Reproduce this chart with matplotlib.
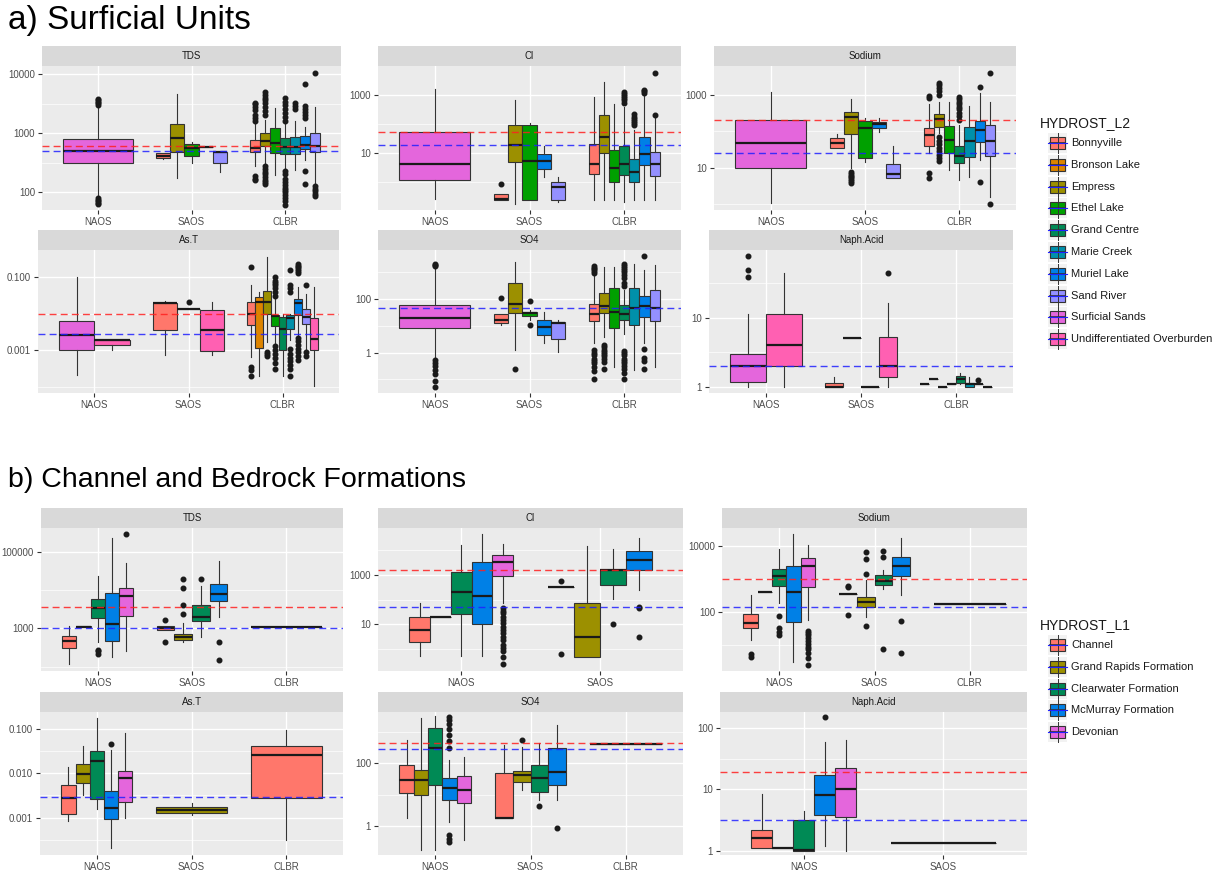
import matplotlib

matplotlib.use("Agg")
import matplotlib.pyplot as plt
from matplotlib.patches import Rectangle
from matplotlib.ticker import NullFormatter

plt.rcParams["font.family"] = ["Liberation Sans", "DejaVu Sans"]

W, H = 1228, 872

# legend categories
L2_UNITS = ["Bonnyville", "Bronson Lake", "Empress", "Ethel Lake", "Grand Centre",
            "Marie Creek", "Muriel Lake", "Sand River", "Surficial Sands",
            "Undifferentiated Overburden"]
L2_COLORS = ["#FF776B", "#DD8400", "#9C9000", "#00A000", "#008A55",
             "#0090AA", "#0080E6", "#9490FF", "#E466DC", "#FF60B2"]
L1_UNITS = ["Channel", "Grand Rapids Formation", "Clearwater Formation",
            "McMurray Formation", "Devonian"]
L1_COLORS = ["#FF776B", "#9C9000", "#008A55", "#0080E6", "#E466DC"]

# box stats: (group, unit, whisker low, q1, median, q3, whisker high, outliers)
A_TDS = [
    ("NAOS", "Surficial Sands", 85, 318, 508, 802, 2800, [62, 66, 70, 75, 80, 3000, 3200, 3400, 3600, 3800]),
    ("SAOS", "Bonnyville", 360, 377, 417, 458, 470, []),
    ("SAOS", "Empress", 172, 489, 822, 1422, 4580, []),
    ("SAOS", "Ethel Lake", 318, 413, 557, 652, 723, []),
    ("SAOS", "Muriel Lake", 594, 594, 594, 594, 594, []),
    ("SAOS", "Sand River", 223, 310, 475, 489, 489, []),
    ("CLBR", "Bonnyville", 279, 489, 571, 771, 1500, [160, 170, 190, 1600, 1800, 2000, 2500, 2800, 3100, 3300]),
    ("CLBR", "Empress", 309, 610, 752, 1000, 1700, [140, 150, 160, 180, 200, 220, 250, 280, 2000, 2400, 2800, 3200, 3600, 4000, 4500, 5000]),
    ("CLBR", "Ethel Lake", 197, 470, 676, 1217, 2650, []),
    ("CLBR", "Grand Centre", 255, 440, 594, 822, 1500, [60, 70, 80, 90, 100, 110, 120, 135, 150, 170, 200, 230, 1600, 1900, 2200, 2600, 3000, 3400, 4000]),
    ("CLBR", "Marie Creek", 240, 447, 594, 879, 1590, [2600, 2900, 3300]),
    ("CLBR", "Muriel Lake", 353, 535, 634, 902, 1297, [140, 230, 1800, 2000, 2300, 2600, 2900, 6800]),
    ("CLBR", "Sand River", 142, 489, 610, 1000, 2830, [85, 95, 105, 115, 130, 10500]),
]
A_CL = [
    ("NAOS", "Surficial Sands", 0.265, 1.22, 4.2, 55, 1560, []),
    ("SAOS", "Bonnyville", 0.25, 0.25, 0.28, 0.39, 0.39, [0.89]),
    ("SAOS", "Empress", 0.19, 4.9, 19.3, 93.6, 676, []),
    ("SAOS", "Ethel Lake", 0.25, 0.25, 5.6, 91, 107, []),
    ("SAOS", "Muriel Lake", 1.58, 2.8, 5.6, 9.2, 17.8, []),
    ("SAOS", "Sand River", 0.22, 0.25, 0.68, 1.07, 1.5, []),
    ("CLBR", "Bonnyville", 0.26, 1.9, 4.2, 21, 832, []),
    ("CLBR", "Empress", 0.26, 10, 37, 206, 2860, []),
    ("CLBR", "Ethel Lake", 0.26, 1.0, 3.2, 13, 490, []),
    ("CLBR", "Grand Centre", 0.22, 1.8, 4.2, 17.8, 400, [520, 650, 800, 950, 1100, 1300]),
    ("CLBR", "Marie Creek", 0.26, 1.0, 2.35, 6.4, 63, [90, 110, 130, 150, 180, 230]),
    ("CLBR", "Muriel Lake", 0.26, 4.0, 9.2, 35, 900, [1150, 1350, 1500]),
    ("CLBR", "Sand River", 0.26, 1.67, 4.2, 10.8, 159, [206, 5830]),
]
A_NA = [
    ("NAOS", "Surficial Sands", 1.04, 9.6, 48.7, 201, 1235, []),
    ("SAOS", "Bonnyville", 35.5, 35.5, 48.7, 64, 83, []),
    ("SAOS", "Empress", 9.6, 83, 243, 348, 760, [3.8, 4.3, 4.8, 5.4, 6.0, 6.8, 7.6]),
    ("SAOS", "Ethel Lake", 14.6, 18, 124, 192, 228, []),
    ("SAOS", "Muriel Lake", 98, 121, 156, 181, 228, []),
    ("SAOS", "Sand River", 5.3, 5.3, 6.7, 12.6, 39.5, []),
    ("CLBR", "Bonnyville", 24.8, 39.5, 77.6, 121, 565, [5.1, 7.0, 850, 950]),
    ("CLBR", "Empress", 88, 129, 214, 300, 656, [15, 18, 22, 28, 35, 45, 55, 70, 1000, 1300, 1600, 1900, 2100]),
    ("CLBR", "Ethel Lake", 8.6, 24.8, 57.7, 140, 656, []),
    ("CLBR", "Grand Centre", 4.6, 13.7, 21, 39.5, 150, [210, 260, 320, 400, 480, 560, 650, 760, 880]),
    ("CLBR", "Marie Creek", 5.6, 20, 55, 129, 508, []),
    ("CLBR", "Muriel Lake", 16, 50, 109, 192, 1110, [3.9, 1690]),
    ("CLBR", "Sand River", 1.6, 21, 55, 149, 656, [1.0, 4120]),
]
A_AS = [
    ("NAOS", "Surficial Sands", 0.000205, 0.00104, 0.0027, 0.0064, 0.1, []),
    ("NAOS", "Undifferentiated Overburden", 0.00104, 0.00135, 0.0019, 0.00197, 0.00197, []),
    ("SAOS", "Bonnyville", 0.00073, 0.0037, 0.0201, 0.0201, 0.0223, []),
    ("SAOS", "Surficial Sands", 0.0137, 0.0137, 0.0137, 0.0137, 0.0137, [0.0215]),
    ("SAOS", "Undifferentiated Overburden", 0.00073, 0.00094, 0.00355, 0.0124, 0.0215, []),
    ("CLBR", "Bonnyville", 0.00066, 0.00488, 0.0098, 0.021, 0.0615, [0.0002, 0.00028, 0.00035, 0.188]),
    ("CLBR", "Bronson Lake", 0.0002, 0.00118, 0.0215, 0.0294, 0.0403, []),
    ("CLBR", "Empress", 0.0017, 0.0098, 0.0215, 0.042, 0.37, [0.0007, 0.0008, 0.0009]),
    ("CLBR", "Ethel Lake", 0.0015, 0.00477, 0.0087, 0.0092, 0.028, [0.0003, 0.00045, 0.0006, 0.0008, 0.001, 0.0013, 0.03, 0.04, 0.05, 0.06, 0.07, 0.08, 0.1]),
    ("CLBR", "Grand Centre", 0.0002, 0.00104, 0.0039, 0.0083, 0.0101, []),
    ("CLBR", "Marie Creek", 0.0019, 0.0039, 0.0078, 0.0092, 0.0101, [0.0002, 0.0003, 0.0004, 0.0005, 0.0006, 0.0008, 0.0011, 0.04, 0.05, 0.06, 0.16]),
    ("CLBR", "Muriel Lake", 0.0026, 0.009, 0.0192, 0.0248, 0.055, [0.00055, 0.0007, 0.0009, 0.0011, 0.0014, 0.0018, 0.0022, 0.13, 0.15, 0.17, 0.19, 0.21, 0.23]),
    ("CLBR", "Sand River", 0.0011, 0.0051, 0.0083, 0.0132, 0.036, [0.0007, 0.0009, 0.06]),
    ("CLBR", "Undifferentiated Overburden", 0.000102, 0.001, 0.002, 0.0079, 0.055, []),
]
A_SO4 = [
    ("NAOS", "Surficial Sands", 0.6, 8.66, 20.5, 59.6, 1630, [0.05, 0.09, 0.155, 0.22, 0.31, 0.41, 0.51, 1700, 1900, 2100]),
    ("SAOS", "Bonnyville", 10.6, 13, 17.3, 29, 29, [115]),
    ("SAOS", "Empress", 1.22, 31.6, 65, 387, 2500, [0.25]),
    ("SAOS", "Ethel Lake", 16.3, 23, 31.6, 33.5, 38.7, [10.6, 86.6]),
    ("SAOS", "Muriel Lake", 2.2, 4.5, 9.2, 17.3, 33.5, []),
    ("SAOS", "Sand River", 1.06, 3.35, 13, 14.1, 16.3, []),
    ("CLBR", "Bonnyville", 2.2, 15, 27.4, 65, 917, [0.1, 0.2, 0.3, 0.4, 0.5, 0.6, 0.8, 1.0, 1.3, 950, 1100, 1300, 1500, 1800]),
    ("CLBR", "Empress", 3.87, 30.7, 54.6, 163, 1630, [0.25, 0.45, 0.6, 0.75, 0.9, 1.1, 1.3, 1.6, 2.0]),
    ("CLBR", "Ethel Lake", 0.29, 8.66, 33.5, 251, 1630, []),
    ("CLBR", "Grand Centre", 5.2, 16.3, 29, 59.6, 217, [0.1, 0.18, 0.25, 0.32, 0.4, 0.5, 0.6, 0.8, 1.0, 1.2, 300, 400, 600, 800, 1000, 1200, 1500, 1800, 2000]),
    ("CLBR", "Marie Creek", 0.22, 10.6, 47, 251, 2000, []),
    ("CLBR", "Muriel Lake", 2.2, 21.8, 54.6, 130, 1220, [0.25, 0.5, 0.63, 1.4, 4100]),
    ("CLBR", "Sand River", 0.29, 15, 48.7, 230, 1870, []),
]
A_NAPH = [
    ("NAOS", "Surficial Sands", 1.0, 1.18, 2.0, 3.04, 11.2, [38.5, 49, 77.4]),
    ("NAOS", "Undifferentiated Overburden", 1.0, 2.0, 4.1, 11.2, 44, []),
    ("SAOS", "Bonnyville", 1.0, 1.0, 1.0, 1.16, 1.4, []),
    ("SAOS", "Empress", 5.1, 5.1, 5.1, 5.1, 5.1, []),
    ("SAOS", "Surficial Sands", 1.0, 1.0, 1.0, 1.0, 1.0, []),
    ("SAOS", "Undifferentiated Overburden", 1.0, 1.4, 2.0, 5.3, 16.5, [44]),
    ("CLBR", "Bonnyville", 1.09, 1.09, 1.09, 1.09, 1.09, []),
    ("CLBR", "Bronson Lake", 1.32, 1.32, 1.32, 1.32, 1.32, []),
    ("CLBR", "Empress", 1.0, 1.0, 1.0, 1.0, 1.0, []),
    ("CLBR", "Ethel Lake", 1.09, 1.09, 1.09, 1.09, 1.09, []),
    ("CLBR", "Grand Centre", 1.1, 1.14, 1.32, 1.44, 1.6, []),
    ("CLBR", "Marie Creek", 1.0, 1.0, 1.1, 1.14, 1.4, []),
    ("CLBR", "Muriel Lake", 1.09, 1.09, 1.09, 1.1, 1.1, [1.28]),
    ("CLBR", "Sand River", 1.0, 1.0, 1.0, 1.0, 1.0, []),
]

B_TDS = [
    ("NAOS", "Channel", 115, 309, 473, 641, 1150, []),
    ("NAOS", "Grand Rapids Formation", 1080, 1080, 1106, 1130, 1130, []),
    ("NAOS", "Clearwater Formation", 446, 1900, 3360, 5800, 24300, [220, 250, 280]),
    ("NAOS", "McMurray Formation", 180, 465, 1275, 8340, 234000, []),
    ("NAOS", "Devonian", 258, 2150, 7250, 11300, 51300, [296000]),
    ("SAOS", "Channel", 903, 903, 1000, 1150, 1150, [446, 1656]),
    ("SAOS", "Grand Rapids Formation", 446, 493, 603, 738, 1350, [2330, 4110, 11300, 19500]),
    ("SAOS", "Clearwater Formation", 603, 1590, 1940, 4110, 13000, [19500]),
    ("SAOS", "McMurray Formation", 1940, 5230, 7850, 14400, 56800, [153, 446]),
    ("CLBR", "Channel", 1106, 1106, 1106, 1106, 1106, []),
    ("CLBR", "McMurray Formation", 1106, 1106, 1106, 1106, 1106, []),
]
B_CL = [
    ("NAOS", "Channel", 0.52, 1.98, 5.9, 19.2, 71, []),
    ("NAOS", "Grand Rapids Formation", 20.5, 20.5, 20.5, 20.5, 20.5, []),
    ("NAOS", "Clearwater Formation", 0.52, 25.4, 211, 1280, 16400, []),
    ("NAOS", "McMurray Formation", 0.52, 10, 141, 3160, 44600, []),
    ("NAOS", "Devonian", 71, 856, 3270, 6470, 18100, [0.24, 0.49, 0.8, 1.06, 1.5, 2.3, 3.2, 4.3, 5.8, 8.1, 11, 15, 20, 28, 36, 45]),
    ("SAOS", "Channel", 316, 316, 316, 316, 316, [0.63, 571]),
    ("SAOS", "Grand Rapids Formation", 0.49, 0.49, 3.16, 75.5, 14100, []),
    ("SAOS", "Clearwater Formation", 103, 393, 1500, 1500, 11300, [10]),
    ("SAOS", "McMurray Formation", 232, 1500, 4050, 8830, 30600, [3.16, 47, 52]),
]
B_NA = [
    ("NAOS", "Channel", 15, 34, 46, 87, 337, [4.3, 5.4]),
    ("NAOS", "Grand Rapids Formation", 406, 406, 406, 406, 406, []),
    ("NAOS", "Clearwater Formation", 197, 649, 1280, 2040, 8300, [20.5, 25.8, 34, 77]),
    ("NAOS", "McMurray Formation", 3.1, 52, 406, 2580, 24300, []),
    ("NAOS", "Devonian", 58, 577, 2580, 4420, 11200, [2.6, 4.2, 5.9, 7.5, 9, 11, 14, 17, 20, 23, 27]),
    ("SAOS", "Channel", 361, 361, 361, 361, 361, [83, 577, 634]),
    ("SAOS", "Grand Rapids Formation", 74, 149, 211, 300, 966, [38, 1470, 4110, 6710]),
    ("SAOS", "Clearwater Formation", 500, 679, 920, 1370, 1950, [8, 4730, 7050]),
    ("SAOS", "McMurray Formation", 337, 1280, 2580, 4730, 17900, [5.9, 56]),
    ("CLBR", "Channel", 180, 180, 180, 180, 180, []),
    ("CLBR", "McMurray Formation", 180, 180, 180, 180, 180, []),
]
B_AS = [
    ("NAOS", "Channel", 0.00084, 0.00121, 0.00282, 0.00546, 0.0141, []),
    ("NAOS", "Grand Rapids Formation", 0.0032, 0.0059, 0.0095, 0.016, 0.04, []),
    ("NAOS", "Clearwater Formation", 0.00157, 0.0026, 0.019, 0.0308, 0.174, []),
    ("NAOS", "McMurray Formation", 0.000203, 0.00093, 0.00168, 0.004, 0.0336, [0.045]),
    ("NAOS", "Devonian", 0.001, 0.0022, 0.0077, 0.0113, 0.08, []),
    ("SAOS", "Grand Rapids Formation", 0.00115, 0.0013, 0.00149, 0.00171, 0.0021, []),
    ("CLBR", "Channel", 0.00031, 0.00273, 0.0255, 0.04, 0.092, []),
]
B_SO4 = [
    ("NAOS", "Channel", 1.8, 11.2, 29, 86, 537, []),
    ("NAOS", "Grand Rapids Formation", 0.17, 9.6, 29, 60, 2700, []),
    ("NAOS", "Clearwater Formation", 0.17, 20, 300, 1290, 3100, []),
    ("NAOS", "McMurray Formation", 1.34, 6.7, 16, 33, 124, [0.3, 0.4, 0.5, 300, 500, 800, 1200, 1700, 2400, 3000]),
    ("NAOS", "Devonian", 0.36, 5.4, 13.9, 38.6, 155, []),
    ("SAOS", "Channel", 1.8, 1.8, 1.8, 48, 372, []),
    ("SAOS", "Grand Rapids Formation", 13.8, 25, 42, 56, 322, [537]),
    ("SAOS", "Clearwater Formation", 6.7, 12, 33, 86.5, 430, [4.3]),
    ("SAOS", "McMurray Formation", 6.7, 20, 52, 300, 1600, [0.86]),
    ("CLBR", "Channel", 400, 400, 400, 400, 400, []),
    ("CLBR", "McMurray Formation", 400, 400, 400, 400, 400, []),
]
B_NAPH = [
    ("NAOS", "Channel", 1.12, 1.12, 1.6, 2.2, 8.5, []),
    ("NAOS", "Grand Rapids Formation", 1.1, 1.1, 1.1, 1.1, 1.1, []),
    ("NAOS", "Clearwater Formation", 1.0, 1.0, 1.05, 3.2, 4.5, []),
    ("NAOS", "McMurray Formation", 1.2, 3.8, 8.1, 17, 60, [150]),
    ("NAOS", "Devonian", 1.0, 3.6, 10, 22, 63, []),
    ("SAOS", "Channel", 1.35, 1.35, 1.35, 1.35, 1.35, []),
    ("SAOS", "McMurray Formation", 1.35, 1.35, 1.35, 1.35, 1.35, []),
]

# guideline values (red, blue)
A_REF = {"TDS": (610, 508), "Cl": (52.6, 19.8), "Sodium": (201, 24.8),
         "As.T": (0.0096, 0.00288), "SO4": (None, 48.7), "Naph.Acid": (None, 2.0)}
B_REF = {"TDS": (3720, 1000), "Cl": (1600, 52), "Sodium": (1010, 149),
         "As.T": (None, 0.00298), "SO4": (430, 278), "Naph.Acid": (19.3, 3.2)}

G3 = ["NAOS", "SAOS", "CLBR"]
G2 = ["NAOS", "SAOS"]

# name, data, groups, pixel box (left, top, right, bottom), ylim, major ticks, labels, minor ticks
A_PANELS = [
    ("TDS", A_TDS, G3, (42, 66, 341, 210), (50, 13800), [100, 1000, 10000], ["100", "1000", "10000"], [10**2.5, 10**3.5]),
    ("Cl", A_CL, G3, (378, 66, 681, 210), (0.114, 9860), [10, 1000], ["10", "1000"], [1, 100]),
    ("Sodium", A_NA, G3, (714, 66, 1016, 210), (0.68, 6280), [10, 1000], ["10", "1000"], [1, 100]),
    ("As.T", A_AS, G3, (38, 250, 339, 393), (6.7e-5, 0.565), [0.001, 0.1], ["0.001", "0.100"], [0.0001, 0.01]),
    ("SO4", A_SO4, G3, (378, 250, 681, 393), (0.031, 6900), [1, 100], ["1", "100"], [0.1, 10, 1000]),
    ("Naph.Acid", A_NAPH, G3, (709, 250, 1013, 393), (0.82, 95), [1, 10], ["1", "10"], [10**0.5, 10**1.5]),
]
B_PANELS = [
    ("TDS", B_TDS, G3, (41, 528, 343, 671), (77, 427000), [1000, 100000], ["1000", "100000"], [100, 10000]),
    ("Cl", B_CL, G2, (378, 528, 683, 671), (0.13, 77600), [10, 1000], ["10", "1000"], [1, 100, 10000]),
    ("Sodium", B_NA, G3, (722, 528, 1027, 671), (1.67, 36100), [100, 10000], ["100", "10000"], [10, 1000]),
    ("As.T", B_AS, G3, (40, 712, 343, 855), (1.44e-4, 0.238), [0.001, 0.01, 0.1], ["0.001", "0.010", "0.100"], [10**-3.5, 10**-2.5, 10**-1.5]),
    ("SO4", B_SO4, G3, (378, 712, 683, 855), (0.12, 4170), [1, 100], ["1", "100"], [10, 1000]),
    ("Naph.Acid", B_NAPH, G2, (720, 712, 1027, 855), (0.86, 182), [1, 10, 100], ["1", "10", "100"], [10**0.5, 10**1.5]),
]

fig = plt.figure(figsize=(W / 100, H / 100), dpi=100)


def draw_panel(spec, units, colors, refs):
    name, boxes, groups, (l, t, r, b), ylim, majors, labels, minors = spec
    ax = fig.add_axes([l / W, 1 - b / H, (r - l) / W, (b - t) / H])
    ax.set_yscale("log")
    ax.set_facecolor("#EBEBEB")
    ax.set_axisbelow(True)
    cmap = dict(zip(units, colors))
    for gi, g in enumerate(groups, start=1):
        present = [bx for u in units for bx in boxes if bx[0] == g and bx[1] == u]
        if not present:
            continue
        w = 0.75 / len(present)
        stats = [dict(whislo=bx[2], q1=bx[3], med=bx[4], q3=bx[5], whishi=bx[6], fliers=bx[7])
                 for bx in present]
        pos = [gi - 0.375 + (i + 0.5) * w for i in range(len(present))]
        art = ax.bxp(stats, positions=pos, widths=w, patch_artist=True, showcaps=False,
                     manage_ticks=False,
                     boxprops=dict(edgecolor="#333333", linewidth=0.8),
                     whiskerprops=dict(color="#333333", linewidth=0.8),
                     medianprops=dict(color="#1A1A1A", linewidth=1.6),
                     flierprops=dict(marker="o", markerfacecolor="#1A1A1A",
                                     markeredgecolor="#1A1A1A", markersize=3.3))
        for patch, bx in zip(art["boxes"], present):
            patch.set_facecolor(cmap[bx[1]])
    red, blue = refs[name]
    if red is not None:
        ax.axhline(red, color="#FF2020", lw=1.0, ls=(0, (5, 3)), alpha=0.85, zorder=6)
    if blue is not None:
        ax.axhline(blue, color="#2020FF", lw=1.0, ls=(0, (5, 3)), alpha=0.85, zorder=6)

    ax.set_xlim(0.4, len(groups) + 0.6)
    ax.set_ylim(*ylim)
    ax.set_xticks(range(1, len(groups) + 1))
    ax.set_xticklabels(groups)
    ax.set_yticks(majors)
    ax.set_yticklabels(labels)
    ax.set_yticks(minors, minor=True)
    ax.yaxis.set_minor_formatter(NullFormatter())
    ax.tick_params(which="major", length=3, width=0.8, color="#333333",
                   labelsize=7, labelcolor="#4D4D4D", pad=2)
    ax.tick_params(which="minor", length=0)
    ax.grid(which="major", color="white", linewidth=1.0)
    ax.grid(which="minor", axis="y", color="white", linewidth=0.5)
    for s in ax.spines.values():
        s.set_visible(False)

    sh = 20 / (b - t)
    ax.add_patch(Rectangle((0, 1), 1, sh, transform=ax.transAxes, facecolor="#D9D9D9",
                           edgecolor="none", clip_on=False))
    ax.text(0.5, 1 + sh / 2, name, transform=ax.transAxes, ha="center", va="center",
            fontsize=7, color="#1A1A1A")


for spec in A_PANELS:
    draw_panel(spec, L2_UNITS, L2_COLORS, A_REF)
for spec in B_PANELS:
    draw_panel(spec, L1_UNITS, L1_COLORS, B_REF)

ov = fig.add_axes([0, 0, 1, 1])
ov.set_xlim(0, W)
ov.set_ylim(H, 0)
ov.axis("off")
ov.patch.set_alpha(0)

ov.text(8, 20, "a) Surficial Units", fontsize=24, va="center", ha="left", color="black")
ov.text(8, 480, "b) Channel and Bedrock Formations", fontsize=20.5, va="center", ha="left", color="black")


def draw_legend(title, units, colors, ytitle, y0):
    ov.text(1040, ytitle, title, fontsize=10, va="center", ha="left", color="#1A1A1A")
    for i, (u, c) in enumerate(zip(units, colors)):
        y = y0 + i * 21.8
        ov.add_patch(Rectangle((1048, y - 10), 19, 20, facecolor="#F2F2F2", edgecolor="none"))
        ov.plot([1057.5, 1057.5], [y - 10, y + 10], color="#333333", lw=0.7)
        ov.add_patch(Rectangle((1050, y - 6), 15, 12, facecolor=c, edgecolor="#333333", lw=0.8))
        ov.plot([1050, 1065], [y, y], color="#333333", lw=1.2)
        ov.plot([1048, 1067], [y, y], color="#2020FF", lw=0.8)
        ov.text(1071, y, u, fontsize=8, va="center", ha="left", color="#1A1A1A")


draw_legend("HYDROST_L2", L2_UNITS, L2_COLORS, 123, 143)
draw_legend("HYDROST_L1", L1_UNITS, L1_COLORS, 625, 645)

fig.savefig("out.png", dpi=100)
plt.close(fig)
